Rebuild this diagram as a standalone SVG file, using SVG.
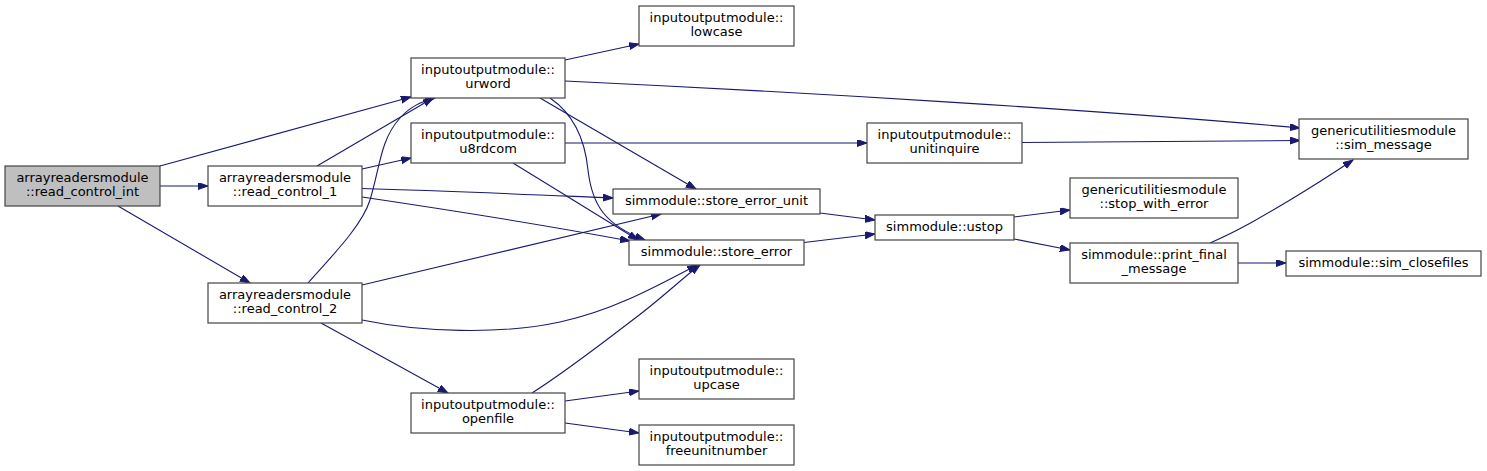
<svg xmlns="http://www.w3.org/2000/svg" width="1487" height="471" viewBox="0 0 1487 471">
<style>
.node rect{fill:#ffffff;stroke:#444444;stroke-width:1.2}
.node.root rect{fill:#bfbfbf}
.node text{font-family:"DejaVu Sans","Liberation Sans",sans-serif;font-size:13px;fill:#000000;text-anchor:middle}
.edges path{fill:none;stroke:#191970;stroke-width:1.1}
</style>
<defs>
<marker id="arr" markerUnits="userSpaceOnUse" markerWidth="11" markerHeight="8" refX="10" refY="3.5" orient="auto" viewBox="0 0 11 8">
<path d="M0,0 L10,3.5 L0,7 z" fill="#191970" stroke="#191970" stroke-width="1"/>
</marker>
</defs>
<rect width="1487" height="471" fill="#ffffff"/>
<g class="edges" marker-end="url(#arr)">
<path marker-end="url(#arr)" d="M160,166 L411,97"/>
<path marker-end="url(#arr)" d="M160,186 L208,186"/>
<path marker-end="url(#arr)" d="M118,206 L250,283"/>
<path marker-end="url(#arr)" d="M317,166 L433,98"/>
<path marker-end="url(#arr)" d="M362,169 L411,158"/>
<path marker-end="url(#arr)" d="M362,188.5 C450,191 540,195 613,198"/>
<path marker-end="url(#arr)" d="M362,197 C450,210 560,228 630,241"/>
<path marker-end="url(#arr)" d="M308,283 C330,258 362,226 370,200 C380,168 380,140 400,118 C410,107 420,102 435,98"/>
<path marker-end="url(#arr)" d="M362,285 L661,214"/>
<path marker-end="url(#arr)" d="M362,320 C420,332 500,335 560,322 C610,311 650,290 697,265"/>
<path marker-end="url(#arr)" d="M321,323 L448,393"/>
<path marker-end="url(#arr)" d="M565,60 L639,44"/>
<path marker-end="url(#arr)" d="M565,81 C800,92 1100,110 1300,128"/>
<path marker-end="url(#arr)" d="M540,98 L696,189"/>
<path marker-end="url(#arr)" d="M550,98 C575,115 585,140 588,170 C592,205 605,225 645,240"/>
<path marker-end="url(#arr)" d="M565,143 L867,143"/>
<path marker-end="url(#arr)" d="M513,163 L638,240"/>
<path marker-end="url(#arr)" d="M1022,142.5 L1300,140.5"/>
<path marker-end="url(#arr)" d="M820,213 L875,220"/>
<path marker-end="url(#arr)" d="M804,242.5 L875,234"/>
<path marker-end="url(#arr)" d="M532,393 C565,372 600,345 630,322 C660,300 680,280 700,265"/>
<path marker-end="url(#arr)" d="M565,401 L639,391"/>
<path marker-end="url(#arr)" d="M565,423 L639,433"/>
<path marker-end="url(#arr)" d="M1014,217 L1070,210"/>
<path marker-end="url(#arr)" d="M1014,239 L1070,250"/>
<path marker-end="url(#arr)" d="M1210,243 C1240,230 1265,215 1290,200 C1315,185 1335,172 1353,160"/>
<path marker-end="url(#arr)" d="M1238,263 L1286,263"/>
</g>
<g id="read_control_int" class="node root"><rect x="5" y="166" width="155" height="40"/><text x="82.5" y="182">arrayreadersmodule</text><text x="82.5" y="196">::read_control_int</text></g>
<g id="read_control_1" class="node"><rect x="208" y="166" width="154" height="40"/><text x="285" y="182">arrayreadersmodule</text><text x="285" y="196">::read_control_1</text></g>
<g id="read_control_2" class="node"><rect x="208" y="283" width="154" height="40"/><text x="285" y="299">arrayreadersmodule</text><text x="285" y="313">::read_control_2</text></g>
<g id="urword" class="node"><rect x="411" y="58" width="154" height="40"/><text x="488" y="74">inputoutputmodule::</text><text x="488" y="88">urword</text></g>
<g id="u8rdcom" class="node"><rect x="411" y="123" width="154" height="40"/><text x="488" y="139">inputoutputmodule::</text><text x="488" y="153">u8rdcom</text></g>
<g id="openfile" class="node"><rect x="411" y="393" width="154" height="40"/><text x="488" y="409">inputoutputmodule::</text><text x="488" y="423">openfile</text></g>
<g id="lowcase" class="node"><rect x="639" y="6" width="155" height="40"/><text x="716.5" y="22">inputoutputmodule::</text><text x="716.5" y="36">lowcase</text></g>
<g id="store_error_unit" class="node"><rect x="613" y="189" width="207" height="25"/><text x="716.5" y="205">simmodule::store_error_unit</text></g>
<g id="store_error" class="node"><rect x="629" y="240" width="175" height="25"/><text x="716.5" y="256">simmodule::store_error</text></g>
<g id="upcase" class="node"><rect x="639" y="359" width="155" height="40"/><text x="716.5" y="375">inputoutputmodule::</text><text x="716.5" y="389">upcase</text></g>
<g id="freeunitnumber" class="node"><rect x="639" y="425" width="155" height="40"/><text x="716.5" y="441">inputoutputmodule::</text><text x="716.5" y="455">freeunitnumber</text></g>
<g id="unitinquire" class="node"><rect x="867" y="123" width="155" height="40"/><text x="944.5" y="139">inputoutputmodule::</text><text x="944.5" y="153">unitinquire</text></g>
<g id="ustop" class="node"><rect x="875" y="215" width="139" height="25"/><text x="944.5" y="231">simmodule::ustop</text></g>
<g id="sim_message" class="node"><rect x="1299" y="119" width="169" height="40"/><text x="1383.5" y="135">genericutilitiesmodule</text><text x="1383.5" y="149">::sim_message</text></g>
<g id="stop_with_error" class="node"><rect x="1070" y="178" width="168" height="40"/><text x="1154" y="194">genericutilitiesmodule</text><text x="1154" y="208">::stop_with_error</text></g>
<g id="print_final_message" class="node"><rect x="1070" y="243" width="168" height="40"/><text x="1154" y="259">simmodule::print_final</text><text x="1154" y="273">_message</text></g>
<g id="sim_closefiles" class="node"><rect x="1286" y="251" width="195" height="25"/><text x="1383.5" y="267">simmodule::sim_closefiles</text></g>
</svg>
